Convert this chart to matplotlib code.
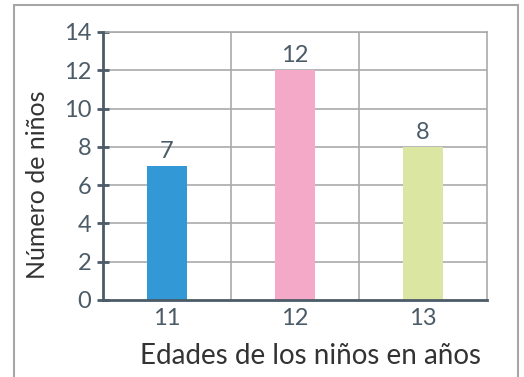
import matplotlib.pyplot as plt
from matplotlib.patches import Rectangle

plt.rcParams["font.family"] = ["Lato", "DejaVu Sans"]

ages = ["11", "12", "13"]
counts = [7, 12, 8]
colors = ["#3399d6", "#f5a9c9", "#dce6a3"]

dark = "#4b5b67"

fig = plt.figure(figsize=(5.24, 3.77), dpi=100)
ax = fig.add_axes([103 / 524, 1 - 300 / 377, 384 / 524, 268 / 377])

x = list(range(len(ages)))
ax.bar(x, counts, width=0.32, color=colors, zorder=3)

for xi, c in zip(x, counts):
    ax.annotate(str(c), (xi, c), xytext=(0, 3), textcoords="offset points",
                ha="center", va="bottom", fontsize=17, color=dark)

ax.set_xlim(-0.5, 2.5)
ax.set_ylim(0, 14)
ax.set_yticks(range(0, 15, 2))
ax.set_xticks(x)
ax.set_xticklabels(ages)

# grid: horizontal lines each 2, vertical lines between categories
for y in range(2, 15, 2):
    ax.axhline(y, color="#aaaaaa", lw=1.2, zorder=1)
for xv in [0.5, 1.5]:
    ax.axvline(xv, color="#aaaaaa", lw=1.2, zorder=1)

for side in ["top", "right"]:
    ax.spines[side].set_color("#aaaaaa")
    ax.spines[side].set_linewidth(1.2)
for side in ["left", "bottom"]:
    ax.spines[side].set_color(dark)
    ax.spines[side].set_linewidth(2)
    ax.spines[side].set_zorder(4)

ax.tick_params(axis="y", direction="inout", length=9, width=2, color=dark,
               labelsize=17, labelcolor=dark, pad=4)
ax.tick_params(axis="x", length=0, labelsize=17, labelcolor=dark, pad=6)

ax.set_ylabel("Número de niños", fontsize=18, color="#333333")
ax.set_xlabel("Edades de los niños en años", fontsize=20, color="#333333")
ax.xaxis.set_label_coords(0.54, -0.21, transform=ax.transAxes)
ax.xaxis.label.set_va("center")
ax.yaxis.set_label_coords(-0.17, 0.43, transform=ax.transAxes)
ax.yaxis.label.set_va("center")

# outer frame
frame = Rectangle((14 / 524, -0.1), 504 / 524, 1.1 - 5 / 377,
                  transform=fig.transFigure, fill=False,
                  edgecolor="#a6a6a6", lw=1.5)
fig.patches.append(frame)

fig.savefig("out.png", dpi=100)
